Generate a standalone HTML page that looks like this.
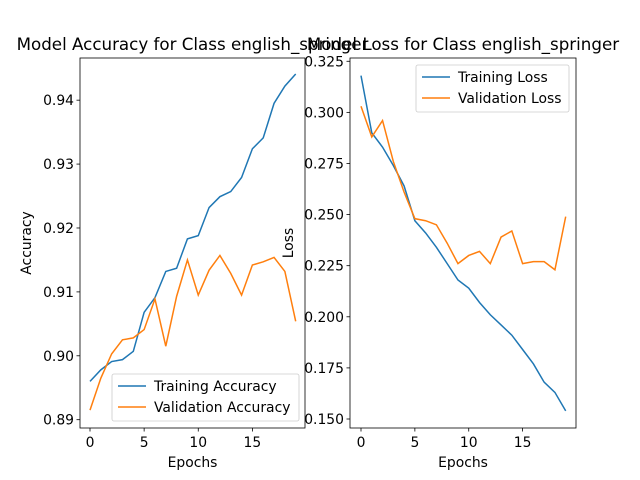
<!DOCTYPE html>
<html><head><meta charset="utf-8"><style>body{margin:0;background:#fff}svg{display:block;font-family:"DejaVu Sans","Liberation Sans",sans-serif}</style></head>
<body>
<svg id="c" width="640" height="480" viewBox="0 0 640 480"></svg>
<script>
const epochs=[0,1,2,3,4,5,6,7,8,9,10,11,12,13,14,15,16,17,18,19];
const trainAcc=[.8960,.8978,.8991,.8994,.9007,.9068,.9091,.9132,.9137,.9183,.9188,.9232,.9249,.9257,.9279,.9324,.9341,.9395,.9422,.9441];
const valAcc=[.8915,.8965,.9003,.9025,.9028,.9041,.9089,.9015,.9093,.9150,.9095,.9134,.9157,.9129,.9095,.9142,.9147,.9154,.9132,.9054];
const trainLoss=[.318,.290,.283,.274,.264,.247,.241,.234,.226,.218,.214,.207,.201,.196,.191,.184,.177,.168,.163,.154];
const valLoss=[.303,.288,.296,.276,.261,.248,.247,.245,.236,.226,.230,.232,.226,.239,.242,.226,.227,.227,.223,.249];
const xTicks=[0,5,10,15];
const accTicks=[0.89,0.90,0.91,0.92,0.93,0.94];
const lossTicks=[0.150,0.175,0.200,0.225,0.250,0.275,0.300,0.325];
const svg=document.getElementById('c');const NS='http://www.w3.org/2000/svg';
const FS=13.9;
function mk(t,a,p){const e=document.createElementNS(NS,t);for(const k in a)e.setAttribute(k,a[k]);(p||svg).appendChild(e);return e;}
function panel(o){
  const g=mk('g',{});
  
  
  const sx=v=>o.x0+(v-o.xmin)*(o.x1-o.x0)/(o.xmax-o.xmin);
  const sy=v=>o.yb-(v-o.ymin)*(o.yb-o.yt)/(o.ymax-o.ymin);
  o.series.forEach((s,i)=>{
    const p=mk('polyline',{points:s.d.map((v,j)=>sx(epochs[j])+','+sy(v)).join(' '),fill:'none',stroke:s.c,'stroke-width':1.5},g);
    
    
  });
  const f=mk('rect',{x:o.L,y:o.yt,width:o.R-o.L,height:o.yb-o.yt,fill:'none',stroke:'#000','stroke-width':0.8},g);
  
  
  xTicks.forEach(t=>{const X=sx(t);mk('line',{x1:X,x2:X,y1:o.yb,y2:o.yb+3.5,stroke:'#000','stroke-width':0.8},g);
    const tx=mk('text',{x:X,y:o.yb+19,'font-size':FS,'text-anchor':'middle'},g);tx.textContent=t;
    
    });
  o.ticks.forEach(t=>{const Y=sy(t);mk('line',{x1:o.L,x2:o.L-3.5,y1:Y,y2:Y,stroke:'#000','stroke-width':0.8},g);
    const tx=mk('text',{x:o.L-6,y:Y+5,'font-size':FS,'text-anchor':'end'},g);tx.textContent=t.toFixed(o.dec);
    
    });
  const xl=mk('text',{x:(o.L+o.R)/2,y:467,'font-size':FS,'text-anchor':'middle'},g);xl.textContent='Epochs';
  
  
  const yl=mk('text',{x:0,y:0,'font-size':FS,'text-anchor':'middle',transform:`translate(${o.ylx},${(o.yt+o.yb)/2}) rotate(-90)`},g);yl.textContent=o.ylab;
  
  
  const tt=mk('text',{x:(o.L+o.R)/2,y:50,'font-size':16.7,'text-anchor':'middle'},g);tt.textContent=o.title;
  
  
  const lg=mk('g',{},g);
  
  
  mk('rect',{x:o.lx,y:o.ly,width:o.lw,height:47,rx:2,fill:'#fff','fill-opacity':0.8,stroke:'#ccc','stroke-width':0.8},lg);
  o.series.forEach((s,i)=>{const yy=o.ly+12+i*21;
    mk('line',{x1:o.lx+6,x2:o.lx+34,y1:yy,y2:yy,stroke:s.c,'stroke-width':1.5},lg);
    const t=mk('text',{x:o.lx+42,y:yy+5,'font-size':FS},lg);t.textContent=s.label;
    
    });
}
panel({name:'accuracy-chart',L:80,R:305,yt:58,yb:428,x0:90,x1:295.7,xmin:0,xmax:19,ymin:0.8887,ymax:0.9466,ticks:accTicks,dec:2,ylab:'Accuracy',ylx:31,title:'Model Accuracy for Class english_springer',lx:112,ly:374,lw:187,
 series:[{d:trainAcc,c:'#1f77b4',n:'training-accuracy-line',label:'Training Accuracy'},{d:valAcc,c:'#ff7f0e',n:'validation-accuracy-line',label:'Validation Accuracy'}]});
panel({name:'loss-chart',L:350,R:576,yt:58,yb:428,x0:361,x1:565.7,xmin:0,xmax:19,ymin:0.1456,ymax:0.3266,ticks:lossTicks,dec:3,ylab:'Loss',ylx:293,title:'Model Loss for Class english_springer',lx:416,ly:65,lw:153,
 series:[{d:trainLoss,c:'#1f77b4',n:'training-loss-line',label:'Training Loss'},{d:valLoss,c:'#ff7f0e',n:'validation-loss-line',label:'Validation Loss'}]});
</script>
</body></html>
